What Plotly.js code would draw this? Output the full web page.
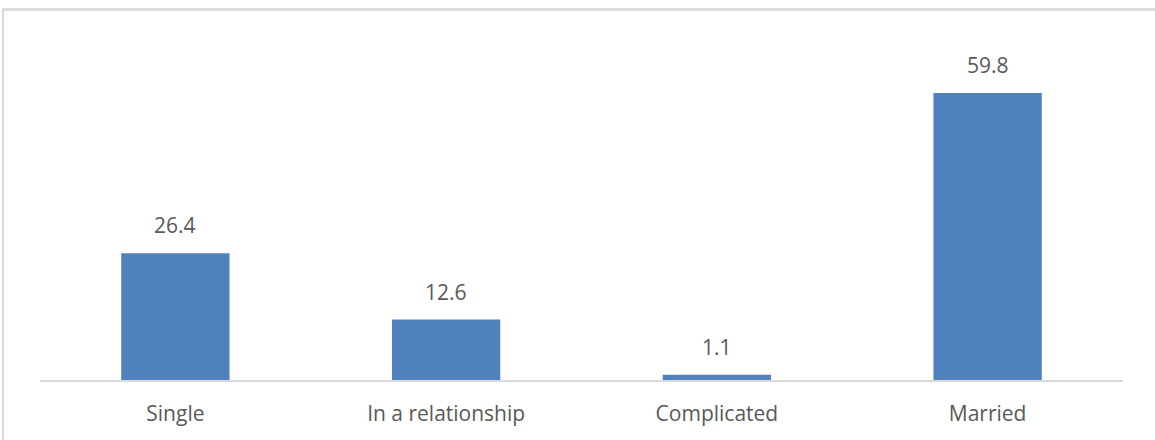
<!DOCTYPE html>
<html>
<head>
<meta charset="utf-8">
<script src="https://cdn.plot.ly/plotly-3.0.1.min.js"></script>
<style>
  html, body { margin: 0; padding: 0; background: #ffffff; }
  #wrap { position: relative; width: 1155px; height: 440px; overflow: hidden; }
  #chart { position: absolute; left: 0; top: 0; width: 1155px; height: 440px; }
  /* frame edges of the chart box */
  #frame { position: absolute; left: 2px; top: 8px; width: 1160px; height: 440px;
           border-left: 2px solid #d9d9d9; border-top: 3px solid #dcdcdc;
           pointer-events: none; }
</style>
</head>
<body>
<div id="wrap">
  <div id="chart"></div>
  <div id="frame"></div>
</div>
<script>
// Relationship status shares (%)
const categories = ["Single", "In a relationship", "Complicated", "Married"];
const shares = [26.4, 12.6, 1.1, 59.8];

const barColor = "#4F81BD";
const textColor = "#595959";
const fontFamily = "'Open Sans', 'Liberation Sans', sans-serif";

const trace = {
  type: "bar",
  x: categories,
  y: shares,
  marker: { color: barColor, line: { width: 0 } },
  hoverinfo: "skip"
};

// value labels above each bar, taken from the same data
const labels = categories.map((c, i) => ({
  x: c,
  y: shares[i],
  xref: "x",
  yref: "y",
  text: shares[i].toFixed(1),
  showarrow: false,
  yanchor: "bottom",
  yshift: 12,
  font: { family: fontFamily, size: 21, color: textColor }
}));

const layout = {
  width: 1155,
  height: 440,
  margin: { l: 40, r: 32, t: 44, b: 60 },
  paper_bgcolor: "#ffffff",
  plot_bgcolor: "#ffffff",
  showlegend: false,
  bargap: 0.6,
  font: { family: fontFamily, size: 21, color: textColor },
  xaxis: {
    type: "category",
    showgrid: false,
    zeroline: false,
    showline: true,
    linecolor: "#d9d9d9",
    linewidth: 2,
    ticks: "",
    ticklabelstandoff: 14,
    tickfont: { family: fontFamily, size: 21, color: textColor },
    fixedrange: true
  },
  yaxis: {
    range: [0, 70],
    showgrid: false,
    zeroline: false,
    showline: false,
    showticklabels: false,
    ticks: "",
    fixedrange: true
  },
  annotations: labels
};

Plotly.newPlot("chart", [trace], layout, { displayModeBar: false, staticPlot: true });
</script>
</body>
</html>
